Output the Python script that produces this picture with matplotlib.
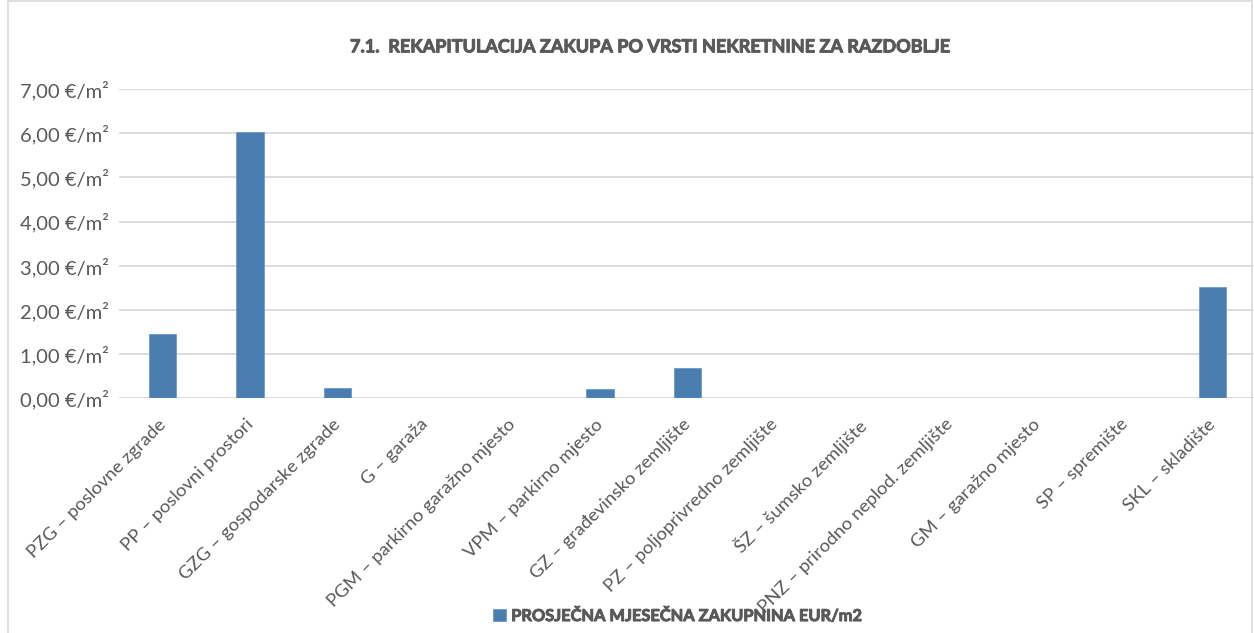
import matplotlib.pyplot as plt
import matplotlib.patheffects as pe
from matplotlib.patches import Rectangle
from matplotlib.ticker import FuncFormatter
from matplotlib.transforms import ScaledTranslation

plt.rcParams['font.family'] = ['Lato', 'DejaVu Sans']

categories = [
    "PZG – poslovne zgrade",
    "PP – poslovni prostori",
    "GZG – gospodarske zgrade",
    "G – garaža",
    "PGM – parkirno garažno mjesto",
    "VPM – parkirno mjesto",
    "GZ – građevinsko zemljište",
    "PZ – poljoprivredno zemljište",
    "ŠZ – šumsko zemljište",
    "PNZ – prirodno neplod. zemljište",
    "GM – garažno mjesto",
    "SP – spremište",
    "SKL – skladište",
]
values = [1.45, 6.02, 0.23, 0, 0, 0.20, 0.68, 0, 0, 0, 0, 0, 2.51]
series_name = "PROSJEČNA MJESEČNA ZAKUPNINA EUR/m2"
title = "7.1.  REKAPITULACIJA ZAKUPA PO VRSTI NEKRETNINE ZA RAZDOBLJE"

text_col = "#595959"
bar_col = "#4a7eb1"
bold_fx = [pe.withStroke(linewidth=0.7, foreground=text_col)]

fig = plt.figure(figsize=(12.54, 6.33), dpi=100)
# chart border
fig.patches.append(Rectangle((0.0064, -0.01), 0.992, 1.008, transform=fig.transFigure,
                             fill=False, edgecolor="#d9d9d9", linewidth=1.2))

ax = fig.add_axes([0.0947, 0.3712, 0.907, 0.488])
x = range(len(categories))
bars = ax.bar(x, values, width=0.31, color=bar_col, edgecolor="#6a9acd",
              linewidth=0.6, label=series_name, zorder=3)

ax.set_xlim(-0.5, len(categories) - 0.5)
ax.set_ylim(0, 7)
ax.set_yticks(range(0, 8))
ax.yaxis.set_major_formatter(FuncFormatter(lambda v, p: f"{v:.2f}".replace(".", ",") + " €/m²"))
ax.grid(axis="y", color="#d9d9d9", linewidth=1.3, zorder=0)
for s in ax.spines.values():
    s.set_visible(False)
ax.tick_params(axis="y", length=0, labelsize=14.5, colors=text_col, pad=7)
ax.tick_params(axis="x", length=0, pad=13)
ax.set_xticks(list(x))
ax.set_xticklabels(categories, rotation=45, ha="right", va="top", rotation_mode="anchor",
                   fontsize=13.3, color=text_col)
shift = ScaledTranslation(-5 / 100, 0, fig.dpi_scale_trans)
for lab in ax.get_xticklabels():
    lab.set_transform(lab.get_transform() + shift)

fig.text(0.518, 0.926, title, ha="center", va="center", fontsize=13,
         fontweight="bold", color=text_col, path_effects=bold_fx)

leg = fig.legend(handles=[bars], labels=[series_name], loc="center",
                 bbox_to_anchor=(0.541, 0.026), frameon=False, fontsize=11.8,
                 handlelength=0.75, handleheight=0.75, handletextpad=0.35)
for t in leg.get_texts():
    t.set_color(text_col)
    t.set_fontweight("bold")
    t.set_path_effects(bold_fx)
leg.set_zorder(10)

fig.savefig("out.png", dpi=100)
